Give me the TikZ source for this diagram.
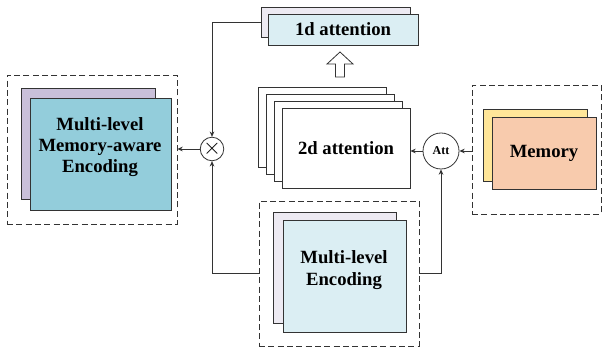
\documentclass[tikz,border=0pt]{standalone}
\usepackage{fontspec}
\setmainfont{Liberation Serif}
\usetikzlibrary{arrows.meta}
\definecolor{mmback}{HTML}{C9C0D9}
\definecolor{mmfront}{HTML}{93CDDB}
\definecolor{lavback}{HTML}{EDEAF2}
\definecolor{bluefront}{HTML}{DBEEF3}
\definecolor{memback}{HTML}{FFE699}
\definecolor{memfront}{HTML}{F8CBAD}
\def\px{0.75pt}

\begin{document}
\begin{tikzpicture}[x=\px,y=-\px,>={Stealth[length=4pt,width=3.5pt]},line width=0.6pt]
	\tikzstyle{box}=[rectangle,draw=black!80,inner sep=0pt,align=center,font=\bfseries\fontsize{14}{16}\selectfont]
	\tikzstyle{group}=[rectangle,draw=black!80,dash pattern=on 4.5pt off 2.5pt,inner sep=0pt]
	\tikzstyle{op}=[circle,draw=black!80,inner sep=0pt]
	\tikzstyle{conn}=[->,draw=black!80]
	\useasboundingbox (0,0) rectangle (609,352);

	% Multi-level memory-aware encoding (output)
	\node[group,minimum width=170*\px,minimum height=149*\px] (mmgroup) at (92,149.5) {};
	\node[box,fill=mmback,minimum width=134*\px,minimum height=111*\px] (mmback) at (88,143.5) {};
	\node[box,fill=mmfront,minimum width=141*\px,minimum height=112*\px] (mmfront) at (100.5,154) {};
	\node[box,draw=none] (mmtext) at (100,147) {Multi-level\\Memory-aware\\Encoding};

	% 1d attention
	\node[box,fill=lavback,minimum width=149*\px,minimum height=30*\px] (att1back) at (335.5,22) {};
	\node[box,fill=bluefront,minimum width=150*\px,minimum height=31*\px] (att1front) at (343,29.5) {1d attention};

	% hollow arrow from 2d to 1d attention
	\draw[fill=white,draw=black!80] (335.5,77) -- (335.5,64) -- (327,64) -- (340,52)
		-- (353,64) -- (344.5,64) -- (344.5,77) -- cycle;

	% 2d attention (stack of maps)
	\foreach \i in {1,...,3}
	\node[box,fill=white,minimum width=128*\px,minimum height=80*\px] (att2d-\i) at ({258+64+(\i-1)*8},{87+40+(\i-1)*7}) {};
	\node[box,fill=white,minimum width=128*\px,minimum height=80*\px] (att2d-4) at (346,148) {2d attention};

	% Memory
	\node[group,minimum width=129*\px,minimum height=129*\px] (memgroup) at (536.5,149.5) {};
	\node[box,fill=memback,minimum width=104*\px,minimum height=72*\px] (memback) at (535,145) {};
	\node[box,fill=memfront,minimum width=104*\px,minimum height=72*\px] (memfront) at (544,153) {Memory};

	% Multi-level encoding (input)
	\node[group,minimum width=160*\px,minimum height=145*\px] (encgroup) at (339,273.5) {};
	\node[box,fill=lavback,minimum width=123*\px,minimum height=111*\px] (encback) at (334.5,267.5) {};
	\node[box,fill=bluefront,minimum width=123*\px,minimum height=112*\px] (encfront) at (344.5,276) {};
	\node[box,draw=none] (enctext) at (344,270) {Multi-level\\Encoding};

	% Operators
	\node[op,minimum size=23*\px,font=\fontsize{16}{16}\selectfont] (mul) at (212,149) {$\times$};
	\node[op,minimum size=36*\px,font=\bfseries\fontsize{9}{10}\selectfont] (att) at (441,151) {Att};

	% Connections
	\draw[conn] (att1back.west) -| (mul);
	\draw[conn] (encgroup.west) -| (mul);
	\draw[conn] (mul) -- (mmgroup.east |- mul);
	\draw[conn] (encgroup.east) -| (att);
	\draw[conn] (memgroup.west |- att) -- (att);
	\draw[conn] (att) -- (att2d-4.east |- att);
\end{tikzpicture}
\end{document}
